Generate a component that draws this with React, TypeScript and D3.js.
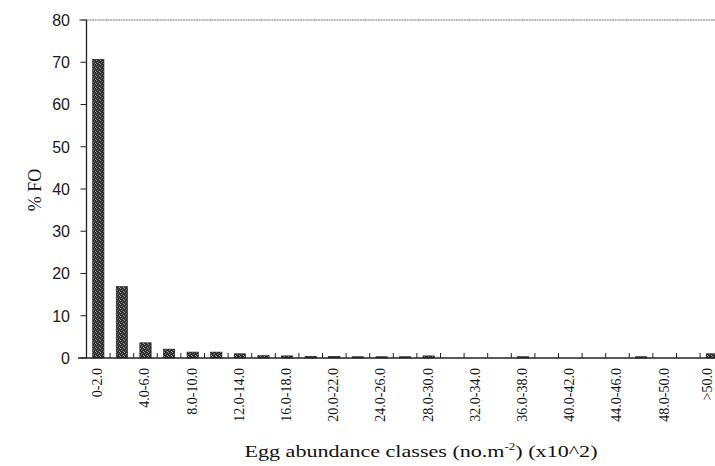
import React from "react";
import * as d3 from "d3";

const categories: string[] = [
  "0-2.0", "2.0-4.0", "4.0-6.0", "6.0-8.0", "8.0-10.0", "10.0-12.0", "12.0-14.0",
  "14.0-16.0", "16.0-18.0", "18.0-20.0", "20.0-22.0", "22.0-24.0", "24.0-26.0",
  "26.0-28.0", "28.0-30.0", "30.0-32.0", "32.0-34.0", "34.0-36.0", "36.0-38.0",
  "38.0-40.0", "40.0-42.0", "42.0-44.0", "44.0-46.0", "46.0-48.0", "48.0-50.0",
  "50.0-52.0", ">50.0",
];
const values: number[] = [
  70.7, 16.9, 3.6, 2.1, 1.4, 1.4, 1.0,
  0.55, 0.5, 0.4, 0.4, 0.3, 0.3,
  0.3, 0.5, 0, 0, 0, 0.3,
  0, 0, 0, 0, 0.3, 0,
  0, 1.0,
];
const yTicks: number[] = [0, 10, 20, 30, 40, 50, 60, 70, 80];

const W = 715;
const H = 466;
const left = 86.5;
const bandW = 23.6;
const top = 20;
const bottom = 358;

export default function App() {
  const x = d3
    .scaleBand<string>()
    .domain(categories)
    .range([left, left + bandW * categories.length])
    .paddingInner(0.52)
    .paddingOuter(0.26);
  const y = d3.scaleLinear().domain([0, 80]).range([bottom, top]);
  const boundaries = d3.range(1, categories.length).map((k) => left + k * bandW);

  return (
    <svg
      width={W}
      height={H}
      style={{ position: "absolute", left: 0, top: 0, background: "#fff" }}
    >
      <defs>
        <pattern id="stipple" width="4" height="4" patternUnits="userSpaceOnUse">
          <rect width="4" height="4" fill="#2e2e2e" />
          <rect x="0" y="0" width="1" height="1" fill="#9a9a9a" />
          <rect x="2" y="1" width="1" height="1" fill="#6a6a6a" />
          <rect x="1" y="2" width="1" height="1" fill="#7a7a7a" />
          <rect x="3" y="3" width="1" height="1" fill="#a5a5a5" />
        </pattern>
      </defs>
      {/* top border */}
      <line x1={79} x2={W} y1={y(80)} y2={y(80)} stroke="#777" strokeWidth={1.2} strokeDasharray="2 0.6" />
      {/* bars */}
      {categories.map((c, i) =>
        values[i] > 0 ? (
          <rect
            key={c}
            x={x(c)}
            y={y(values[i])}
            width={x.bandwidth()}
            height={bottom - y(values[i])}
            fill="url(#stipple)"
            stroke="#1a1a1a"
            strokeWidth={0.6}
          />
        ) : null
      )}
      {/* y axis */}
      <line x1={left} x2={left} y1={y(80)} y2={bottom} stroke="#222" strokeWidth={1.3} />
      {yTicks.map((t) => (
        <g key={t}>
          <line x1={left - 6} x2={left} y1={y(t)} y2={y(t)} stroke="#222" strokeWidth={1} />
          <text
            x={70}
            y={y(t)}
            dy="0.36em"
            textAnchor="end"
            fontFamily="'Liberation Sans', Arial, sans-serif"
            fontSize={16}
            fill="#1a1a1a"
          >
            {t}
          </text>
        </g>
      ))}
      {/* x axis */}
      <line x1={78} x2={W} y1={bottom} y2={bottom} stroke="#222" strokeWidth={1.3} />
      {boundaries.map((b, k) => (
        <line key={k} x1={b} x2={b} y1={bottom} y2={bottom - 5} stroke="#222" strokeWidth={1} />
      ))}
      {categories.map((c, i) =>
        i % 2 === 0 ? (
          <text
            key={c}
            transform={`translate(${Math.min((x(c) ?? 0) + x.bandwidth() / 2 - 1, 707)},${368}) rotate(-90)`}
            dy="0.35em"
            textAnchor="end"
            fontFamily="'Liberation Serif', 'Times New Roman', serif"
            fontSize={14}
            fill="#111"
          >
            {c}
          </text>
        ) : null
      )}
      {/* axis titles */}
      <text
        transform={`translate(35,190) rotate(-90)`}
        dy="0.35em"
        textAnchor="middle"
        fontFamily="'Liberation Serif', 'Times New Roman', serif"
        fontSize={18}
        fill="#111"
      >
        % FO
      </text>
      <g transform="translate(421,457) scale(1.3,1)">
        <text
          x={0}
          y={0}
          textAnchor="middle"
          fontFamily="'Liberation Serif', 'Times New Roman', serif"
          fontSize={17}
          fill="#111"
        >
          Egg abundance classes (no.m
          <tspan dy={-7} fontSize={10}>-2</tspan>
          <tspan dy={7}>) (x10^2)</tspan>
        </text>
      </g>
    </svg>
  );
}
